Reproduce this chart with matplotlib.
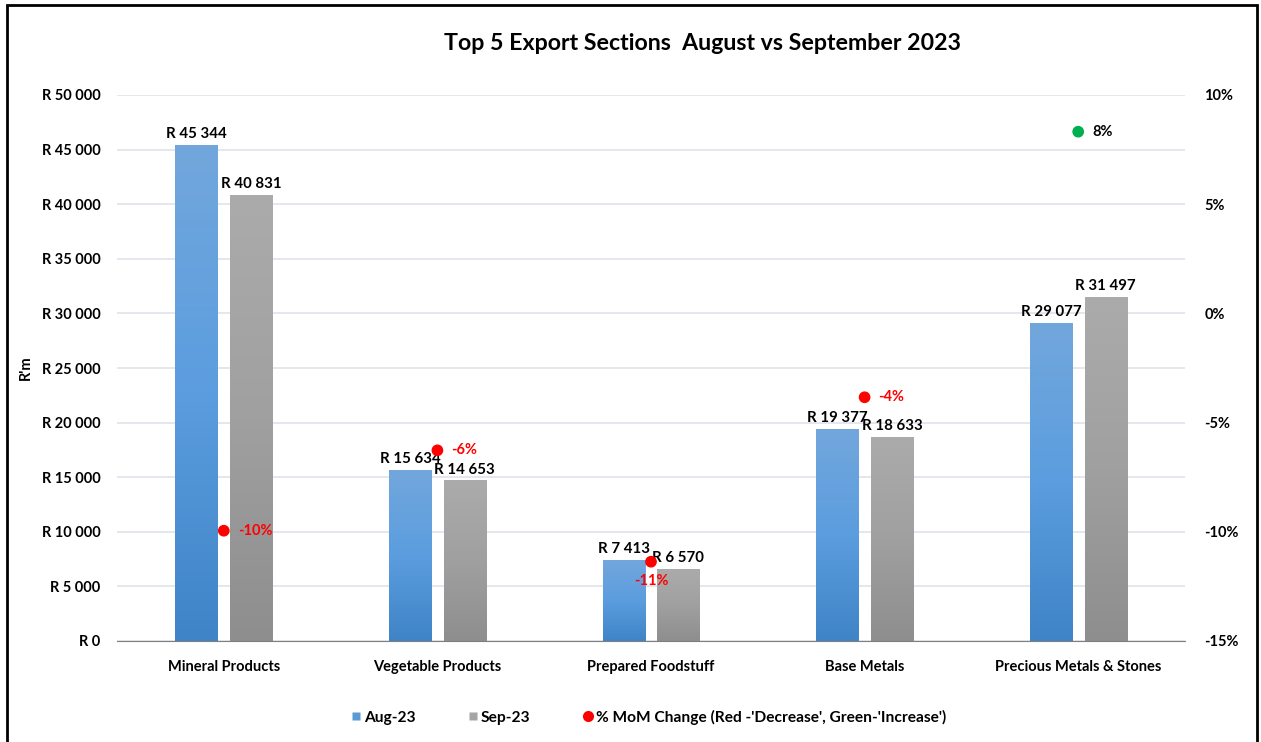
import numpy as np
import matplotlib.pyplot as plt
from matplotlib.lines import Line2D
from matplotlib.patches import Rectangle
from matplotlib.colors import LinearSegmentedColormap

plt.rcParams['font.family'] = ['Lato', 'DejaVu Sans']

# data (R million)
sections = ['Mineral Products', 'Vegetable Products', 'Prepared Foodstuff',
            'Base Metals', 'Precious Metals & Stones']
aug23 = [45344, 15634, 7413, 19377, 29077]
sep23 = [40831, 14653, 6570, 18633, 31497]
mom_pct = [-9.95, -6.27, -11.37, -3.84, 8.32]
mom_labels = ['-10%', '-6%', '-11%', '-4%', '8%']

left_ticks = np.arange(0, 50001, 5000)
right_ticks = np.arange(-15, 11, 5)

fig = plt.figure(figsize=(12.61, 7.42), dpi=100)
ax = fig.add_axes([117/1261, 1-641/742, 1068/1261, 546/742])
ax2 = ax.twinx()

x = np.arange(len(sections))
w = 0.197
off = 0.128

blue_cm = LinearSegmentedColormap.from_list('b', ['#3f84c7', '#5b9ddf', '#72a7dc'])
grey_cm = LinearSegmentedColormap.from_list('g', ['#8e8e8e', '#a0a0a0', '#ababab'])
grad = np.linspace(0, 1, 256).reshape(-1, 1)


def grad_bar(xc, h, cmap):
    # bar filled with a vertical gradient
    ax.imshow(grad, cmap=cmap, origin='lower', aspect='auto',
              extent=[xc - w/2, xc + w/2, 0, h], zorder=2)


for i in range(len(sections)):
    grad_bar(x[i] - off, aug23[i], blue_cm)
    grad_bar(x[i] + off, sep23[i], grey_cm)
    ax.text(x[i] - off, aug23[i] + 400, 'R {:,}'.format(aug23[i]).replace(',', ' '),
            ha='center', va='bottom', fontsize=10.8, fontweight='bold')
    ax.text(x[i] + off, sep23[i] + 400, 'R {:,}'.format(sep23[i]).replace(',', ' '),
            ha='center', va='bottom', fontsize=10.8, fontweight='bold')

ax.set_xlim(-0.5, len(sections) - 0.5)
ax.set_ylim(0, 50000)
ax.set_yticks(left_ticks)
ax.set_yticklabels(['R {:,}'.format(v).replace(',', ' ') for v in left_ticks],
                   fontsize=10.5, fontweight='bold')
ax.set_xticks(x)
ax.set_xticklabels(sections, fontsize=10.5, fontweight='bold')
ax.tick_params(axis='both', length=0, pad=12)
ax.tick_params(axis='x', pad=14)
ax.grid(axis='y', color='#dfe3ea', linewidth=1.2, zorder=0)
ax.set_axisbelow(True)
for s in ['top', 'right', 'left']:
    ax.spines[s].set_visible(False)
ax.spines['bottom'].set_color('#7f7f7f')
ax.set_ylabel("R'm", fontsize=10.5, fontweight='bold', labelpad=6)

# secondary axis: month-on-month change
ax2.set_ylim(-15, 10)
ax2.set_yticks(right_ticks)
ax2.set_yticklabels(['{}%'.format(v) for v in right_ticks], fontsize=10.5,
                    fontweight='bold')
ax2.tick_params(axis='y', length=0, pad=14)
for s in ax2.spines.values():
    s.set_visible(False)
cols = ['#ff0000' if v < 0 else '#00b050' for v in mom_pct]
ax2.scatter(x, mom_pct, s=55, c=cols, zorder=5)
for i, v in enumerate(mom_pct):
    if i == 2:
        ax2.text(x[i], v - 0.55, mom_labels[i], ha='center', va='top',
                 color=cols[i], fontsize=10.5, fontweight='bold')
    else:
        ax2.text(x[i] + 0.065, v, mom_labels[i], ha='left', va='center',
                 color=cols[i] if v < 0 else 'black', fontsize=10.5,
                 fontweight='bold')

fig.text(703/1261, 1 - 44/742, 'Top 5 Export Sections  August vs September 2023',
         ha='center', va='center', fontsize=16.7, fontweight='bold')

handles = [
    Line2D([], [], marker='s', color='none', markerfacecolor='#5b9bd5',
           markeredgecolor='none', markersize=6, label='Aug-23'),
    Line2D([], [], marker='s', color='none', markerfacecolor='#a5a5a5',
           markeredgecolor='none', markersize=6, label='Sep-23'),
    Line2D([], [], marker='o', color='none', markerfacecolor='#ff0000',
           markeredgecolor='none', markersize=8,
           label="% MoM Change (Red -'Decrease', Green-'Increase')"),
]
leg = fig.legend(handles=handles, loc='center', bbox_to_anchor=(647/1261, 1 - 717/742),
                 ncol=3, frameon=False, handletextpad=0.0, handlelength=1.0,
                 columnspacing=3.2, prop={'size': 11.2, 'weight': 'bold'})

# chart border
fig.patches.append(Rectangle((7/1261, -0.01), 1250/1261, 1 - 5/742 + 0.01,
                             transform=fig.transFigure, fill=False,
                             edgecolor='black', linewidth=2))

fig.savefig('out.png', dpi=100)
